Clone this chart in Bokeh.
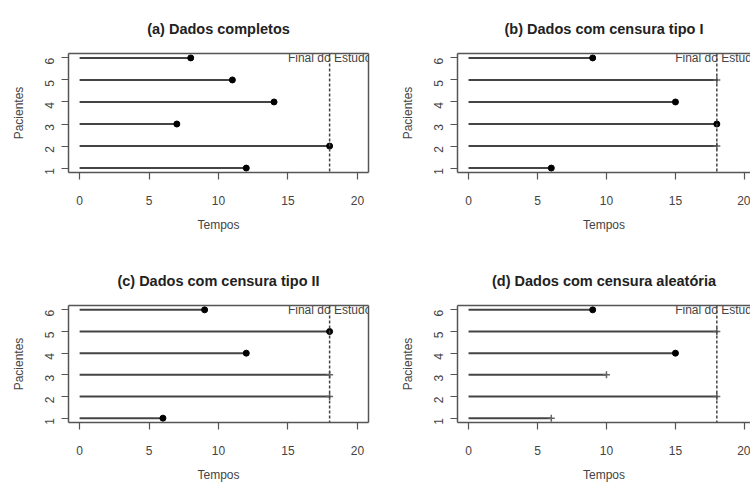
import math
from bokeh.plotting import figure
from bokeh.layouts import gridplot
from bokeh.models import (ColumnDataSource, FixedTicker, LinearAxis, Span, Range1d)
from bokeh.core.properties import value
from bokeh.embed import file_html
from bokeh.resources import INLINE

# ---- data ----
patients = [1, 2, 3, 4, 5, 6]
times_a = [12, 18, 7, 14, 11, 8]
status_a = [1, 1, 1, 1, 1, 1]
times_b = [6, 18, 18, 15, 18, 9]
status_b = [1, 0, 1, 1, 0, 1]
times_c = [6, 18, 18, 12, 18, 9]
status_c = [1, 0, 0, 1, 1, 1]
times_d = [6, 18, 10, 15, 18, 9]
status_d = [0, 0, 0, 1, 0, 1]
titles = ["(a) Dados completos", "(b) Dados com censura tipo I",
          "(c) Dados com censura tipo II", "(d) Dados com censura aleatória"]
study_end = 18
end_label = "Final do Estudo"
x_ticks = [0, 5, 10, 15, 20]
y_ticks = [1, 2, 3, 4, 5, 6]
x_label = "Tempos"
y_label = "Pacientes"

FONT = "Liberation Sans"
AX = "#555555"
TXT = "#444444"


def panel(title, times, status, right_col, top_row):
    width = 361 if right_col else 389
    height = 252 if top_row else 232
    x_end = 20.44 if right_col else 20.8
    p = figure(width=width, height=height, output_backend="svg",
               toolbar_location=None, x_range=Range1d(-0.8, x_end),
               y_range=Range1d(0.8, 6.2), x_axis_type=None, y_axis_type=None,
               min_border_left=68, min_border_right=0 if right_col else 21,
               min_border_top=53,
               min_border_bottom=80 if top_row else 60)
    p.outline_line_color = None
    p.xgrid.visible = False
    p.ygrid.visible = False
    p.background_fill_color = "white"
    p.border_fill_color = "white"

    p.title.text = title
    p.title.align = "center"
    p.title.text_font = FONT
    p.title.text_font_style = "bold"
    p.title.text_font_size = "14.5px"
    p.title.text_color = "#222222"
    p.title.standoff = 33

    xa = LinearAxis(ticker=FixedTicker(ticks=x_ticks), axis_label=x_label)
    ya = LinearAxis(ticker=FixedTicker(ticks=y_ticks), axis_label=y_label)
    for a in (xa, ya):
        a.axis_line_color = AX
        a.axis_line_width = 1.5
        a.major_tick_line_color = AX
        a.major_tick_line_width = 1.2
        a.major_tick_out = 7
        a.major_tick_in = 0
        a.minor_tick_line_color = None
        a.major_label_text_font = FONT
        a.major_label_text_font_size = "12px"
        a.major_label_text_color = TXT
        a.axis_label_text_font = FONT
        a.axis_label_text_font_size = "12px"
        a.axis_label_text_font_style = "normal"
        a.axis_label_text_color = TXT
    xa.major_label_standoff = 16
    xa.axis_label_standoff = 10
    ya.major_label_standoff = 12
    ya.axis_label_standoff = 12
    ya.major_label_orientation = math.pi / 2
    p.add_layout(xa, "below")
    p.add_layout(ya, "left")

    sides = ["above"] if right_col else ["above", "right"]
    for side in sides:
        ha = LinearAxis(ticker=FixedTicker(ticks=[]))
        ha.axis_line_color = AX
        ha.axis_line_width = 1.5
        ha.major_tick_line_color = None
        ha.minor_tick_line_color = None
        ha.major_tick_out = 0
        ha.major_tick_in = 0
        ha.major_label_standoff = 0
        ha.major_label_text_font_size = "0px"
        p.add_layout(ha, side)

    src = ColumnDataSource(dict(y=patients, t=times, s=status,
                                x0=[0] * len(patients)))
    p.segment(x0="x0", y0="y", x1="t", y1="y", source=src,
              line_width=2, line_color="#444444")

    ev_t = [t for t, s in zip(times, status) if s == 1]
    ev_y = [y for y, s in zip(patients, status) if s == 1]
    ce_t = [t for t, s in zip(times, status) if s == 0]
    ce_y = [y for y, s in zip(patients, status) if s == 0]
    if ce_t:
        p.scatter(x=ce_t, y=ce_y, marker="cross", size=7,
                  line_color="#666666", line_width=1.5)
    p.scatter(x=ev_t, y=ev_y, marker="circle", size=6,
              fill_color="black", line_color="black")

    p.add_layout(Span(location=study_end, dimension="height",
                      line_color="#444444", line_width=1.5, line_dash="3 2"))
    p.text(x=[study_end], y=[6], text=[end_label], text_align="center",
           text_baseline="middle", text_font=value(FONT),
           text_font_size="12px", text_color="#444444")
    return p


pa = panel(titles[0], times_a, status_a, False, True)
pb = panel(titles[1], times_b, status_b, True, True)
pc = panel(titles[2], times_c, status_c, False, False)
pd = panel(titles[3], times_d, status_d, True, False)

grid = gridplot([[pa, pb], [pc, pd]], toolbar_location=None)

open("out.html", "w").write(file_html(grid, INLINE))
